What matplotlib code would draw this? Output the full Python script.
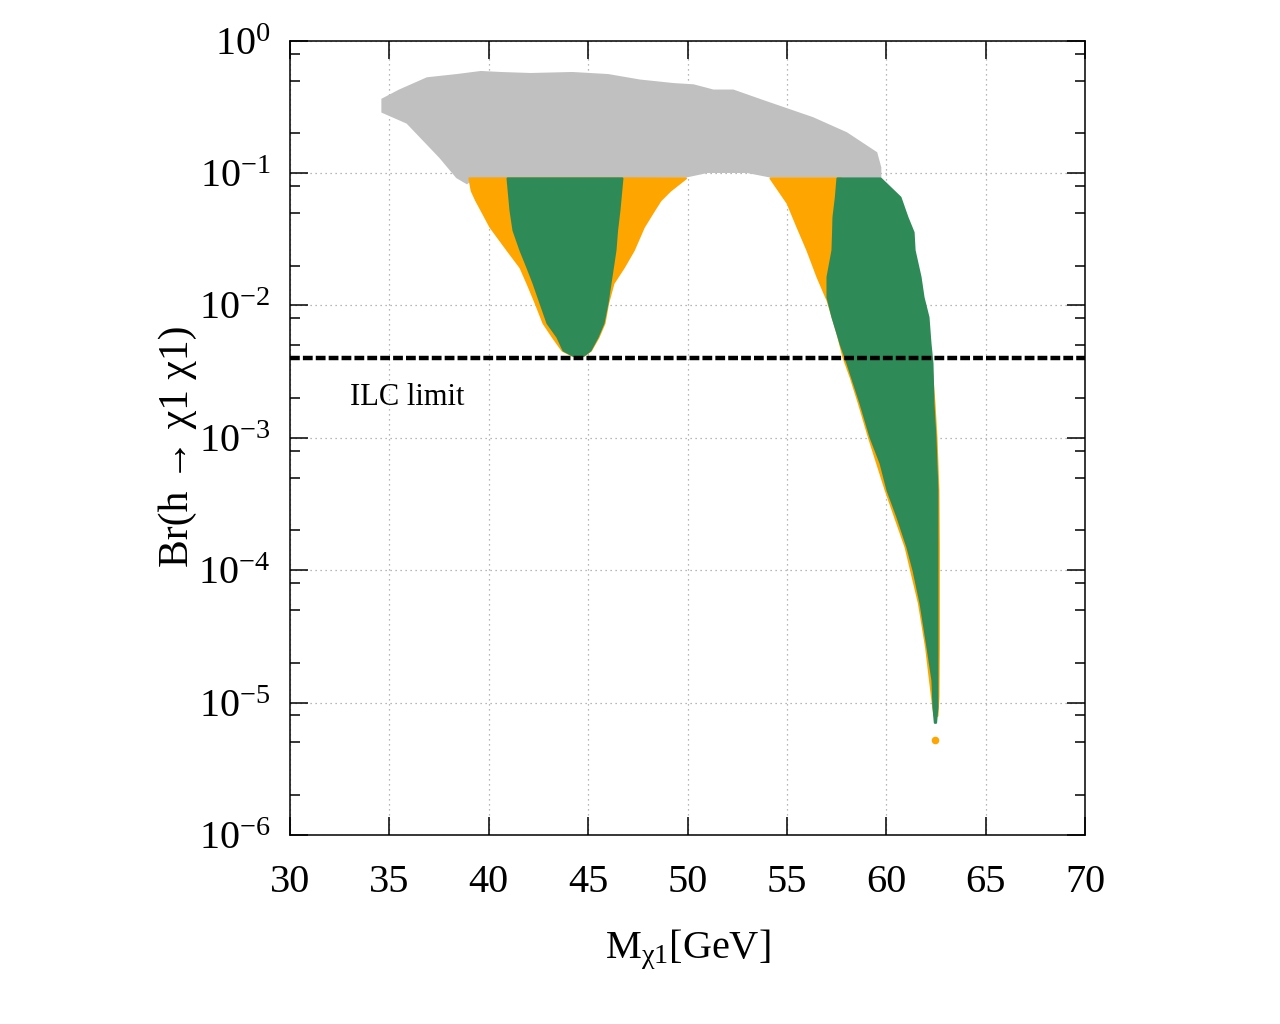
import numpy as np
import matplotlib
matplotlib.use('Agg')
import matplotlib.pyplot as plt
from matplotlib.ticker import FixedLocator, FixedFormatter, NullFormatter

# ---- data: envelopes of the scanned point clouds ----
# gray (excluded) cloud
gray_upper_x = [34.65, 35.5, 36.9, 38.4, 39.6, 40.6, 42.1, 44.2, 46.0, 47.6, 49.3, 50.3,
                51.3, 52.3, 53.8, 56.3, 58.0, 59.5, 59.7]
gray_upper_y = [0.36, 0.42, 0.52, 0.55, 0.58, 0.57, 0.56, 0.57, 0.55, 0.50, 0.47, 0.46,
                0.42, 0.42, 0.35, 0.26, 0.20, 0.142, 0.11]
gray_lower_x = [34.65, 35.9, 37.55, 38.4, 38.9, 39.2, 49.9, 51.0, 53.0, 54.2, 59.7]
gray_lower_y = [0.29, 0.24, 0.132, 0.093, 0.084, 0.092, 0.094, 0.102, 0.102, 0.094, 0.094]

# orange cloud, first funnel
orange1_y = [0.092, 0.074, 0.0627, 0.0527, 0.0394, 0.0263, 0.0195, 0.0148, 0.01045,
             0.0074, 0.0058, 0.0046, 0.0042]
orange1_left = [39.0, 39.12, 39.34, 39.61, 40.06, 40.92, 41.57, 41.92, 42.34,
                42.73, 43.2, 43.68, 44.2]
orange1_right = [49.9, 49.1, 48.62, 48.3, 47.78, 47.27, 46.77, 46.25, 45.98,
                 45.8, 45.5, 45.12, 44.76]

# green cloud, first funnel
green1_y = [0.092, 0.0527, 0.0372, 0.0263, 0.0195, 0.0148, 0.01045, 0.0074, 0.0058,
            0.0046, 0.0042]
green1_left = [40.92, 41.07, 41.22, 41.57, 41.92, 42.23, 42.58, 42.93, 43.43, 43.74, 44.24]
green1_right = [46.70, 46.55, 46.43, 46.35, 46.22, 46.10, 45.95, 45.75, 45.45, 45.09, 44.74]

# orange cloud, second branch
orange2_y = [0.092, 0.0597, 0.0394, 0.0263, 0.0165, 0.0110, 0.0062, 0.0041, 0.0029,
             0.00183, 0.00102, 0.000404, 0.000150, 5.66e-5, 2.63e-5, 1.1e-5, 8e-6]
orange2_left = [54.15, 55.01, 55.51, 56.01, 56.52, 57.02, 57.52, 57.82, 58.18,
                58.6, 59.1, 59.95, 60.95, 61.62, 61.98, 62.28, 62.4]
orange2_right = [57.7, 57.6, 57.6, 57.5, 57.4, 57.4, 60.0, 62.2, 62.3,
                 62.4, 62.5, 62.6, 62.62, 62.62, 62.62, 62.6, 62.55]

# green cloud, second branch
green2_y = [0.092, 0.066, 0.0467, 0.0359, 0.0263, 0.0165, 0.0116, 0.0082, 0.0052, 0.00368,
            0.00183, 0.00102, 0.000646, 0.000404, 0.000253, 0.000150, 0.000100, 5.66e-5,
            2.63e-5, 1.48e-5, 9.3e-6, 7.1e-6]
green2_left = [57.52, 57.44, 57.32, 57.30, 57.27, 57.02, 57.02, 57.27, 57.67, 58.02,
               58.68, 59.18, 59.69, 60.04, 60.54, 61.04, 61.35, 61.70,
               62.05, 62.30, 62.35, 62.42]
green2_right = [59.69, 60.69, 61.04, 61.35, 61.40, 61.70, 61.85, 62.10, 62.20, 62.30,
                62.35, 62.45, 62.50, 62.55, 62.55, 62.55, 62.55, 62.55,
                62.55, 62.55, 62.55, 62.48]

# isolated orange point
orange_point_x = [62.45]
orange_point_y = [5.2e-6]

ilc_limit = 0.004

x_ticks = [30, 35, 40, 45, 50, 55, 60, 65, 70]
y_ticks = [1e-6, 1e-5, 1e-4, 1e-3, 1e-2, 1e-1, 1e0]
y_tick_labels = [r'$\mathregular{10^{-6}}$', r'$\mathregular{10^{-5}}$', r'$\mathregular{10^{-4}}$',
                 r'$\mathregular{10^{-3}}$', r'$\mathregular{10^{-2}}$', r'$\mathregular{10^{-1}}$',
                 r'$\mathregular{10^{0}}$']

# ---- style ----
plt.rcParams['font.family'] = ['Liberation Serif', 'DejaVu Sans']
plt.rcParams['mathtext.fontset'] = 'custom'
plt.rcParams['mathtext.rm'] = 'Liberation Serif'
plt.rcParams['mathtext.it'] = 'Liberation Serif:italic'
plt.rcParams['mathtext.bf'] = 'Liberation Serif:bold'

GRAY = '#c0c0c0'
ORANGE = '#ffa500'
GREEN = '#2e8b57'

fig = plt.figure(figsize=(12.8, 10.24), dpi=100)
ax = fig.add_axes([290 / 1280, 1 - 835 / 1024, 795 / 1280, 794.3 / 1024])
ax.set_yscale('log')
ax.set_xlim(30, 70)
ax.set_ylim(1e-6, 1)

# clouds
ax.fill(np.concatenate([gray_upper_x, gray_lower_x[::-1]]),
        np.concatenate([gray_upper_y, gray_lower_y[::-1]]),
        color=GRAY, lw=1.5, zorder=2)
ax.fill_betweenx(orange1_y, orange1_left, orange1_right, color=ORANGE, lw=1.5, zorder=3)
ax.fill_betweenx(orange2_y, orange2_left, orange2_right, color=ORANGE, lw=1.5, zorder=3)
ax.scatter(orange_point_x, orange_point_y, s=30, color=ORANGE, lw=0, zorder=3)
ax.fill_betweenx(green1_y, green1_left, green1_right, color=GREEN, lw=1.5, zorder=4)
ax.fill_betweenx(green2_y, green2_left, green2_right, color=GREEN, lw=1.5, zorder=4)

# ILC limit
ax.axhline(ilc_limit, color='black', lw=3.2, dashes=(2.2, 0.7), zorder=5)
ax.text(33.0, 0.002, 'ILC limit', fontsize=22, ha='left', va='center', zorder=6)

# grid
ax.set_axisbelow(True)
ax.grid(True, which='major', color='#a0a0a0', lw=0.9, ls=(0, (1, 3)))

# ticks
ax.xaxis.set_major_locator(FixedLocator(x_ticks))
ax.set_xticklabels([str(t) for t in x_ticks])
ax.yaxis.set_major_locator(FixedLocator(y_ticks))
ax.yaxis.set_major_formatter(FixedFormatter(y_tick_labels))
minor = [m * 10.0 ** e for e in range(-6, 0) for m in (2, 5, 8)]
ax.yaxis.set_minor_locator(FixedLocator(minor))
ax.yaxis.set_minor_formatter(NullFormatter())
ax.xaxis.set_minor_locator(FixedLocator([]))
ax.tick_params(which='both', direction='in', top=True, right=True, width=1.1)
ax.tick_params(which='major', length=13)
ax.tick_params(which='minor', length=7)
ax.tick_params(axis='x', which='major', labelsize=29, pad=21)
ax.tick_params(axis='y', which='major', labelsize=29, pad=14)
for s in ax.spines.values():
    s.set_linewidth(1.1)

# axis labels
fig.text(688 / 1280, 1 - 950 / 1024, r'M$_{\mathregular{χ1}}$[GeV]', fontsize=29,
         ha='center', va='center')
fig.text(178 / 1280, 1 - 446 / 1024, 'Br(h → χ1 χ1)', fontsize=30, rotation=90,
         ha='center', va='center')

fig.savefig('out.png', dpi=100)
